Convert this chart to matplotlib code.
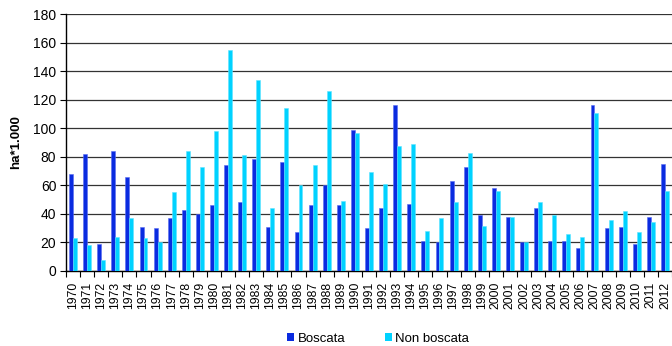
import numpy as np
import matplotlib
matplotlib.use("Agg")
import matplotlib.pyplot as plt
from matplotlib.patches import Patch

plt.rcParams['font.family'] = ['Liberation Sans', 'DejaVu Sans']

years = [str(y) for y in range(1970, 2013)]
boscata = [68, 82, 19, 84, 66, 31, 30, 37, 43, 40, 46, 74, 48, 78.5, 31, 76, 27, 46,
           60, 46, 98.5, 30, 44, 116, 47, 21, 20.5, 63, 73, 39, 58, 38, 20.5, 44, 21,
           21, 16, 116.5, 30, 31, 19, 38, 75]
non_boscata = [23, 18, 8, 24, 37, 23, 20, 55, 84, 73, 98, 155, 81, 134, 44, 114, 60, 74,
               126, 49, 97, 69.5, 61, 87.5, 89, 28, 37, 48.5, 82.5, 31.5, 56, 38, 20.5, 48,
               39.5, 26, 23.5, 111, 36, 42, 27.5, 34, 56]
yticks = list(range(0, 181, 20))

c_bosc = '#0a2be0'
c_non = '#00d2ff'

fig = plt.figure(figsize=(6.72, 3.46), dpi=100)
ax = fig.add_axes([66 / 672, 75 / 346, 606 / 672, 257 / 346])

x = np.arange(len(years))
w = 0.28
ax.bar(x - w / 2, boscata, width=w, color=c_bosc, edgecolor='#5a6cf0', linewidth=0.4, zorder=3)
ax.bar(x + w / 2, non_boscata, width=w, color=c_non, edgecolor='#60e4ff', linewidth=0.4, zorder=3)

ax.set_xlim(-0.5, len(years) - 0.5)
ax.set_ylim(0, 180)
ax.set_yticks(yticks)
ax.tick_params(axis='y', labelsize=10, length=4, width=0.8, pad=3, colors='black')
ax.yaxis.grid(True, color='#333333', linewidth=0.9, zorder=0)
ax.set_axisbelow(True)

ax.set_xticks(x)
ax.set_xticklabels(years, rotation=90, fontsize=8.8)
ax.tick_params(axis='x', which='major', length=0, pad=8)
ax.set_xticks(np.arange(-0.5, len(years), 1.0), minor=True)
ax.tick_params(axis='x', which='minor', length=4, width=0.8, direction='out')

for s in ['top', 'right']:
    ax.spines[s].set_visible(False)
ax.spines['left'].set_linewidth(1.0)
ax.spines['bottom'].set_linewidth(1.0)

ax.set_ylabel('ha*1.000', fontsize=9.5, fontweight='bold', labelpad=8)

handles = [Patch(facecolor=c_bosc, edgecolor='none', label='Boscata'),
           Patch(facecolor=c_non, edgecolor='none', label='Non boscata')]
fig.legend(handles=handles, loc='center', bbox_to_anchor=(378 / 672, 1 - 339 / 346),
           ncol=2, frameon=False, fontsize=9.5, handlelength=0.55, handleheight=0.55,
           handletextpad=0.25, columnspacing=3.0)

fig.savefig('out.png', dpi=100)
